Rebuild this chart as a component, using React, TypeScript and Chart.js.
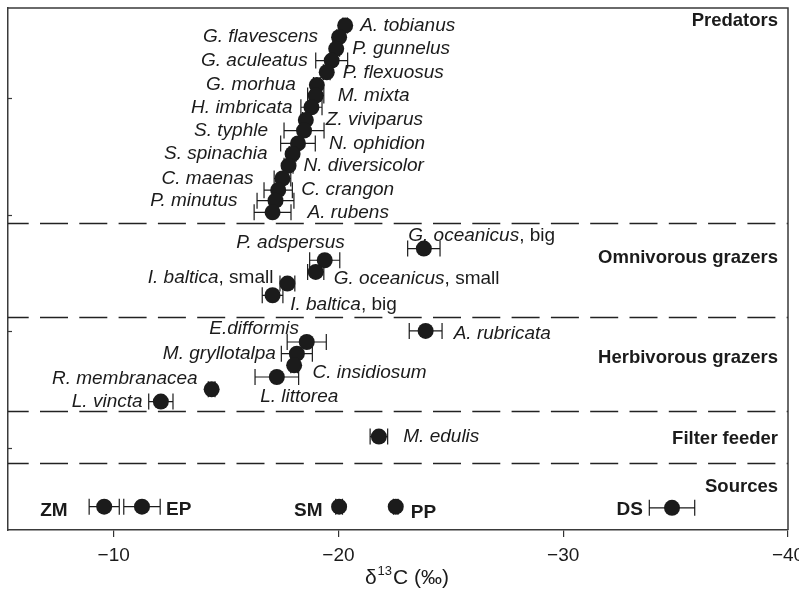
import React, { useEffect, useRef } from 'react';
import { Chart, registerables } from 'chart.js';

Chart.register(...registerables);

// ---------- DATA ----------
// Consumers (italic name part, upright suffix)
const speciesName = [
  'A. tobianus', 'G. flavescens', 'P. gunnelus', 'G. aculeatus', 'P. flexuosus',
  'G. morhua', 'M. mixta', 'H. imbricata', 'Z. viviparus', 'S. typhle',
  'N. ophidion', 'S. spinachia', 'N. diversicolor', 'C. maenas', 'C. crangon',
  'P. minutus', 'A. rubens',
  'G. oceanicus', 'P. adspersus', 'G. oceanicus', 'I. baltica', 'I. baltica',
  'A. rubricata', 'E.difformis', 'M. gryllotalpa', 'C. insidiosum', 'L. littorea',
  'R. membranacea', 'L. vincta',
  'M. edulis',
];
const speciesSuffix = [
  '', '', '', '', '', '', '', '', '', '', '', '', '', '', '', '', '',
  ', big', '', ', small', ', small', ', big',
  '', '', '', '', '', '', '',
  '',
];
const speciesD13C = [
  -20.3, -20.03, -19.9, -19.7, -19.48,
  -19.04, -18.99, -18.8, -18.55, -18.47,
  -18.2, -17.96, -17.78, -17.51, -17.32,
  -17.2, -17.07,
  -23.8, -19.39, -18.99, -17.73, -17.07,
  -23.88, -18.59, -18.15, -18.03, -17.26,
  -14.36, -12.1,
  -21.8,
];
const speciesError = [
  0.1, 0.1, 0.15, 0.71, 0.15,
  0.15, 0.36, 0.47, 0.15, 0.89,
  0.77, 0.15, 0.2, 0.37, 0.63,
  0.82, 0.82,
  0.72, 0.67, 0.36, 0.33, 0.46,
  0.73, 0.87, 0.69, 0.15, 0.97,
  0.15, 0.54,
  0.39,
];
const speciesRow = [
  36.2, 35.2, 34.2, 33.2, 32.2,
  31.1, 30.2, 29.2, 28.1, 27.2,
  26.1, 25.2, 24.2, 23.1, 22.1,
  21.2, 20.2,
  17.1, 16.1, 15.1, 14.1, 13.1,
  10.05, 9.1, 8.1, 7.1, 6.1,
  5.05, 4.0,
  1.0,
];

// Sources
const sourceName = ['ZM', 'EP', 'SM', 'PP', 'DS'];
const sourceD13C = [-9.58, -11.26, -20.03, -22.55, -34.84];
const sourceError = [0.67, 0.81, 0.15, 0.1, 1.01];
const sourceRow = [-5.0, -5.0, -5.0, -5.0, -5.1];

// Trophic groups
const groupName = ['Predators', 'Omnivorous grazers', 'Herbivorous grazers', 'Filter feeder', 'Sources'];
const groupRow = [36.6, 16.33, 7.7, 0.78, -3.32];
const groupDivider = [19.32, 11.2, 3.17, -1.27];

// Axes
const xTickValues = [-10, -20, -30, -40];
const xTickLabels = ['\u221210', '\u221220', '\u221230', '\u221240'];
const yTickValues = [0, 10, 20, 30];
const xAxisTitle = ['\u03b4', '13', 'C (\u2030)'];

// ---------- LABEL LAYOUT (styling) ----------
const speciesLabelAlign = [
  'L', 'R', 'L', 'R', 'L', 'R', 'L', 'R', 'L', 'R', 'L', 'R', 'L', 'R', 'L', 'R', 'L',
  'L', 'R', 'L', 'R', 'L',
  'L', 'R', 'R', 'L', 'L', 'R', 'R',
  'L',
];
// 'L' = text starts at dx (left-aligned), 'R' = text ends at dx (right-aligned)
const speciesLabelDx = [
  15, -21, 16, -24, 16, -21, 22, -19, 20, -36, 31, -25, 15, -29, 23, -38, 35,
  -15.6, 20, 18, -14, 17.6,
  28, -7.7, -21, 18.4, -16.7, -14, -18.3,
  24.4,
];
const speciesLabelDy = [
  0, 0, 0, 0, 0, 0, 0, 0, 0, 0, 0, 0, 0, 0, 0, 0, 0,
  -13, -18, 7, -6, 9,
  3, -13, 0, 7, 20, -11, 0,
  0,
];
const sourceLabelAlign = ['R', 'L', 'R', 'L', 'R'];
const sourceLabelDx = [-36.6, 24, -16.6, 15, -29];
const sourceLabelDy = [4, 3, 4, 6, 2];

const FONT = '"Liberation Sans", Arial, Helvetica, sans-serif';
const INK = '#1b1b1b';

const annotationPlugin = {
  id: 'foodwebAnnotations',
  beforeDatasetsDraw(chart: any) {
    const ctx = chart.ctx as CanvasRenderingContext2D;
    const xs = chart.scales.x;
    const ys = chart.scales.y;
    const area = chart.chartArea;
    ctx.save();
    // dashed group dividers
    ctx.strokeStyle = '#222';
    ctx.lineWidth = 1.4;
    ctx.setLineDash([28, 11.3]);
    ctx.lineDashOffset = 7.3;
    groupDivider.forEach((v) => {
      const y = Math.round(ys.getPixelForValue(v)) + 0.5;
      ctx.beginPath();
      ctx.moveTo(area.left, y);
      ctx.lineTo(area.right, y);
      ctx.stroke();
    });
    ctx.setLineDash([]);
    // error bars
    ctx.strokeStyle = INK;
    ctx.lineWidth = 1.2;
    const cap = 8;
    const drawErr = (x: number, e: number, row: number) => {
      const x1 = xs.getPixelForValue(x - e);
      const x2 = xs.getPixelForValue(x + e);
      const y = ys.getPixelForValue(row);
      ctx.beginPath();
      ctx.moveTo(x1, y);
      ctx.lineTo(x2, y);
      ctx.moveTo(x1, y - cap);
      ctx.lineTo(x1, y + cap);
      ctx.moveTo(x2, y - cap);
      ctx.lineTo(x2, y + cap);
      ctx.stroke();
    };
    speciesD13C.forEach((x, i) => drawErr(x, speciesError[i], speciesRow[i]));
    sourceD13C.forEach((x, i) => drawErr(x, sourceError[i], sourceRow[i]));
    ctx.restore();
  },
  afterDatasetsDraw(chart: any) {
    const ctx = chart.ctx as CanvasRenderingContext2D;
    const xs = chart.scales.x;
    const ys = chart.scales.y;
    const area = chart.chartArea;
    ctx.save();
    ctx.fillStyle = INK;
    ctx.textBaseline = 'middle';
    const italic = `italic 19px ${FONT}`;
    const upright = `19px ${FONT}`;
    // species labels
    speciesName.forEach((name, i) => {
      const px = xs.getPixelForValue(speciesD13C[i]) + speciesLabelDx[i];
      const py = ys.getPixelForValue(speciesRow[i]) + speciesLabelDy[i];
      ctx.font = italic;
      const w1 = ctx.measureText(name).width;
      ctx.font = upright;
      const w2 = ctx.measureText(speciesSuffix[i]).width;
      const start = speciesLabelAlign[i] === 'L' ? px : px - (w1 + w2);
      ctx.textAlign = 'left';
      ctx.font = italic;
      ctx.fillText(name, start, py);
      if (speciesSuffix[i]) {
        ctx.font = upright;
        ctx.fillText(speciesSuffix[i], start + w1, py);
      }
    });
    // source labels
    ctx.font = `bold 19px ${FONT}`;
    sourceName.forEach((name, i) => {
      const px = xs.getPixelForValue(sourceD13C[i]) + sourceLabelDx[i];
      const py = ys.getPixelForValue(sourceRow[i]) + sourceLabelDy[i];
      ctx.textAlign = sourceLabelAlign[i] === 'L' ? 'left' : 'right';
      ctx.fillText(name, px, py);
    });
    // group labels
    ctx.font = `bold 18.5px ${FONT}`;
    ctx.textAlign = 'right';
    groupName.forEach((name, i) => {
      ctx.fillText(name, area.right - 10, ys.getPixelForValue(groupRow[i]));
    });
    // frame (top/right)
    ctx.strokeStyle = '#3a3a3a';
    ctx.lineWidth = 1.5;
    ctx.beginPath();
    ctx.moveTo(area.left, area.top);
    ctx.lineTo(area.right, area.top);
    ctx.lineTo(area.right, area.bottom);
    ctx.stroke();
    // inward y ticks
    ctx.lineWidth = 1.2;
    yTickValues.forEach((v) => {
      const y = Math.round(ys.getPixelForValue(v)) + 0.5;
      ctx.beginPath();
      ctx.moveTo(area.left, y);
      ctx.lineTo(area.left + 4, y);
      ctx.stroke();
    });
    // x-axis title with superscript
    const big = `21px ${FONT}`;
    const small = `13px ${FONT}`;
    ctx.font = big;
    const wa = ctx.measureText(xAxisTitle[0]).width;
    const wc = ctx.measureText(xAxisTitle[2]).width;
    ctx.font = small;
    const wb = ctx.measureText(xAxisTitle[1]).width;
    const total = wa + wb + wc + 2;
    const cx = (area.left + area.right) / 2 + 9;
    const x0 = cx - total / 2;
    const base = area.bottom + 53.5;
    ctx.textBaseline = 'alphabetic';
    ctx.textAlign = 'left';
    ctx.font = big;
    ctx.fillText(xAxisTitle[0], x0, base);
    ctx.font = small;
    ctx.fillText(xAxisTitle[1], x0 + wa + 1, base - 8.5);
    ctx.font = big;
    ctx.fillText(xAxisTitle[2], x0 + wa + wb + 2, base);
    ctx.restore();
  },
};

export default function App() {
  const ref = useRef<HTMLCanvasElement>(null);
  useEffect(() => {
    const canvas = ref.current;
    if (!canvas) return;
    const chart = new Chart(canvas, {
      type: 'scatter',
      data: {
        datasets: [
          {
            data: speciesD13C.map((x, i) => ({ x, y: speciesRow[i] })),
            pointRadius: 8,
            pointHoverRadius: 8,
            pointBackgroundColor: INK,
            pointBorderWidth: 0,
          },
          {
            data: sourceD13C.map((x, i) => ({ x, y: sourceRow[i] })),
            pointRadius: 8,
            pointHoverRadius: 8,
            pointBackgroundColor: INK,
            pointBorderWidth: 0,
          },
        ],
      },
      options: {
        responsive: false,
        animation: false,
        devicePixelRatio: 1,
        events: [],
        layout: { padding: { top: 7, right: 11, left: 0, bottom: 0 } },
        plugins: { legend: { display: false }, tooltip: { enabled: false }, title: { display: false } },
        scales: {
          x: {
            type: 'linear',
            reverse: true,
            min: -40,
            max: -5.3,
            afterBuildTicks: (s: any) => {
              s.ticks = xTickValues.map((v) => ({ value: v }));
            },
            afterFit: (s: any) => {
              s.height = 63;
              s.paddingLeft = 0;
              s.paddingRight = 0;
            },
            ticks: {
              autoSkip: false,
              maxRotation: 0,
              padding: 7,
              color: INK,
              font: { family: FONT, size: 19 },
              callback: (_v: any, i: number) => xTickLabels[i],
            },
            grid: { drawOnChartArea: false, drawTicks: true, tickLength: 7, color: '#333', lineWidth: 1.2 },
            border: { display: true, color: '#3a3a3a', width: 1.5 },
          },
          y: {
            type: 'linear',
            min: -7,
            max: 37.7,
            afterFit: (s: any) => {
              s.width = 7;
              s.paddingTop = 0;
              s.paddingBottom = 0;
            },
            ticks: { display: false },
            grid: { drawOnChartArea: false, drawTicks: false },
            border: { display: true, color: '#3a3a3a', width: 1.5 },
          },
        },
      },
      plugins: [annotationPlugin],
    } as any);
    return () => chart.destroy();
  }, []);
  return (
    <div style={{ position: 'fixed', left: 0, top: 0, width: 799, height: 593, background: '#fff' }}>
      <canvas ref={ref} width={799} height={593} style={{ display: 'block' }} />
    </div>
  );
}
